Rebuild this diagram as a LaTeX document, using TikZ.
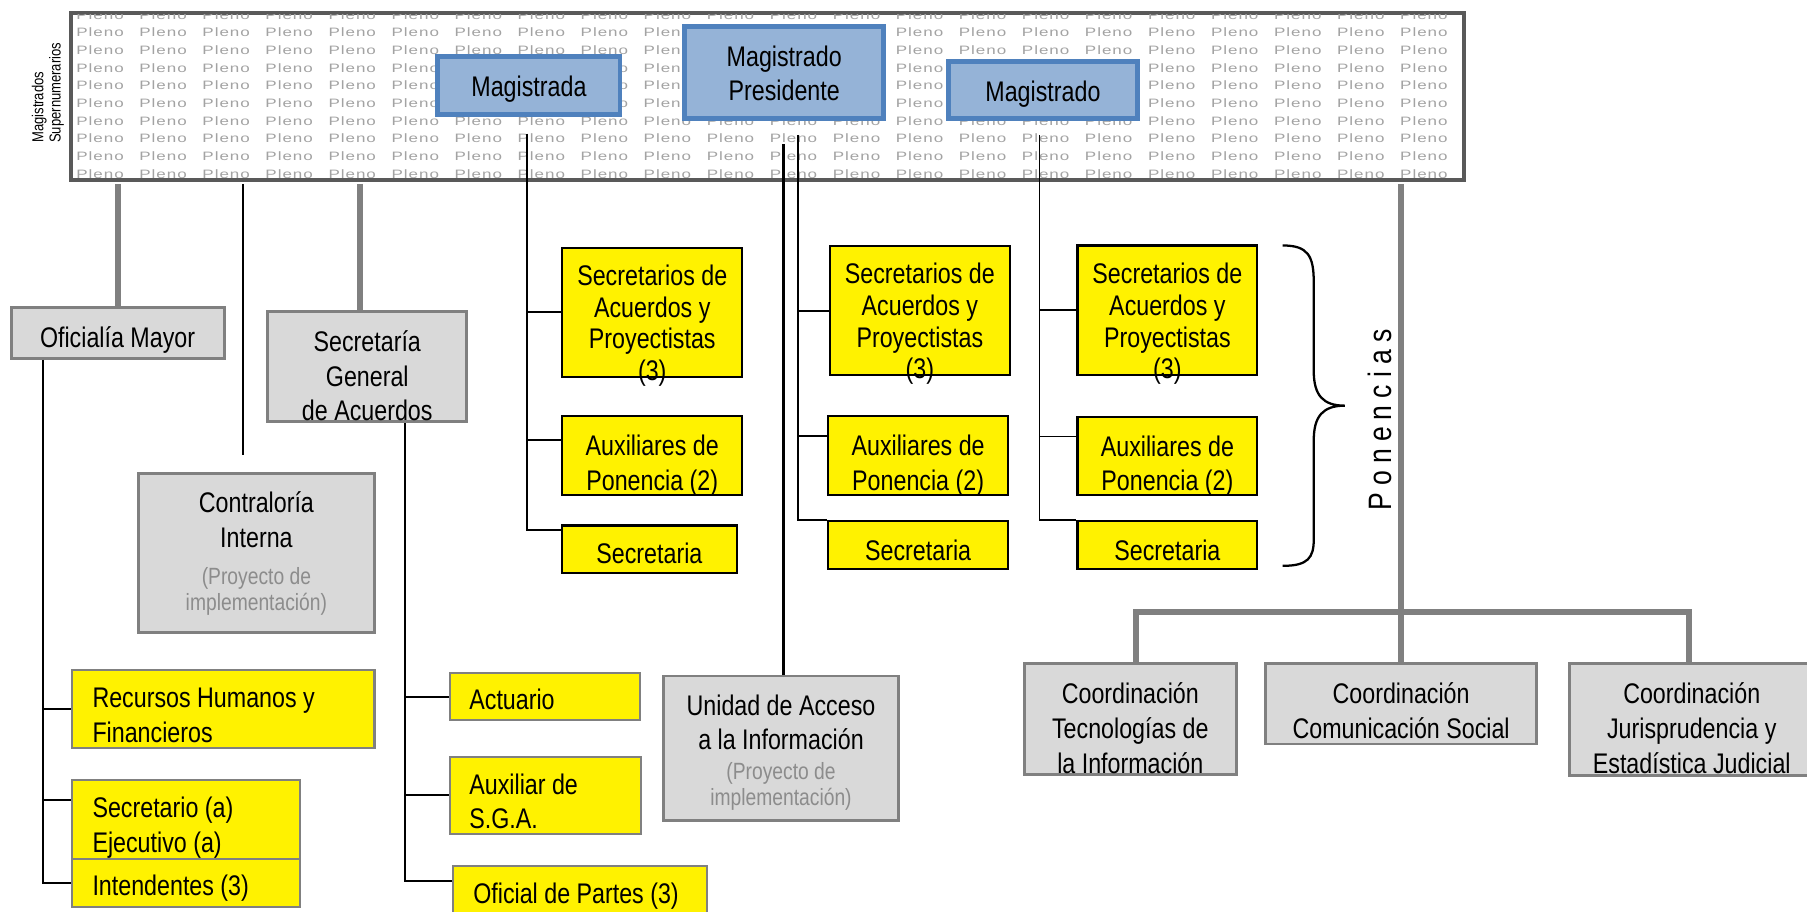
\documentclass[tikz,border=0pt]{standalone}
\usepackage{fontspec}
\setmainfont{Liberation Sans}[FakeStretch=0.82]
\newfontfamily\plenofont{Liberation Sans}[FakeStretch=1.4,LetterSpace=8]
\newfontfamily\ponfont{Liberation Sans}[FakeStretch=0.82,LetterSpace=22]
\usetikzlibrary{calc,fit}
\definecolor{magfill}{HTML}{95B3D7}
\definecolor{magline}{HTML}{4F81BD}
\definecolor{boxgray}{HTML}{D9D9D9}
\definecolor{linegray}{HTML}{808080}
\definecolor{plenoline}{HTML}{595959}
\definecolor{plenotext}{HTML}{A3A3A3}
\definecolor{subgray}{HTML}{8C8C8C}
\tikzset{
 plenobox/.style={fill=white,draw=plenoline,line width=2.5pt,inner sep=0pt},
 plenotxt/.style={anchor=west,inner sep=0pt,text=plenotext,font=\plenofont\fontsize{7.5}{8}\selectfont},
 magbox/.style={fill=magfill,draw=magline,line width=3pt,inner sep=0pt},
 graybox/.style={fill=boxgray,draw=linegray,line width=1.8pt,inner sep=0pt},
 yelbox/.style={fill=yellow,draw=black,line width=1.3pt,inner sep=0pt},
 yelboxg/.style={fill=yellow,draw=linegray,line width=1.3pt,inner sep=0pt},
 btxt/.style={align=center,inner sep=0pt,font=\fontsize{17.5}{21.5}\selectfont},
 saptxt/.style={btxt,font=\fontsize{17.5}{19.6}\selectfont},
 ltxt/.style={align=left,anchor=west,inner sep=0pt,font=\fontsize{17.5}{21.5}\selectfont},
 conn/.style={line width=1.2pt},
 gconn/.style={draw=linegray,line width=3.7pt}
}
\newcommand{\subtxt}{\color{subgray}\fontsize{14.5}{16.6}\selectfont}

\begin{document}
\begin{tikzpicture}[x=0.025cm,y=-0.025cm]
 \useasboundingbox (0,0) rectangle (1568,791); %図の範囲
 \node[plenobox,fit={(62,11) (1270,156)}] (pleno) {}; %Plenoの枠
 \begin{scope}
  \clip (64,13) rectangle (1268,154); %枠の内側
  \foreach \r in {0,...,9}
   \foreach \c in {0,...,21}{
    \pgfmathtruncatemacro\hide{(\r>2)*(\r<6)*((\c>5)*(\c<8)+(\c>13)*(\c<17))+(\r>0)*(\r<6)*(\c>9)*(\c<13)} %箱の下に隠れる文字
    \ifnum\hide=0
     \node[plenotxt] (pl-\r-\c) at ({66+54.7*\c},{13+15.3*\r}) {Pleno}; %背景の文字
    \fi
   }
 \end{scope}
 \node[rotate=90,align=left,inner sep=0pt,font=\fontsize{9.8}{10.6}\selectfont] (super) at (41.5,80.5) {Magistrados\\Supernumerarios}; %左の縦書き

 \node[magbox,fit={(380,49) (538,99)}] (mag1) {}; %Magistrada
 \node[btxt] (mag1t) at (459,77.3) {Magistrada};
 \node[magbox,fit={(594,23) (767,103)}] (pres) {}; %Magistrado Presidente
 \node[btxt] (prest) at (680.5,63.6) {Magistrado\\Presidente};
 \node[magbox,fit={(823,53.5) (987,103)}] (mag2) {}; %Magistrado
 \node[btxt] (mag2t) at (905,81.3) {Magistrado};

 \node[graybox,fit={(10,267) (195,311)}] (ofic) {}; %Oficialía Mayor
 \node[btxt] (ofict) at (102,295) {Oficialía Mayor};
 \node[graybox,fit={(232.5,270) (405,366)}] (secgen) {}; %Secretaría General
 \node[btxt] (secgent) at (318.7,326) {Secretaría\\General\\de Acuerdos};
 \node[graybox,fit={(120,410.5) (325,549)}] (contra) {}; %Contraloría
 \node[btxt] (contrat) at (222.5,480.5) {Contraloría\\Interna\\[1pt]\subtxt(Proyecto de\\[-5pt]\subtxt implementación)};

 \node[yelbox,fit={(488,215) (644,327)}] (sap1) {}; %ポネンシア1
 \node[saptxt] (sap1t) at (566,282.5) {Secretarios de\\Acuerdos y\\Proyectistas\\(3)};
 \node[yelbox,fit={(488,361) (644,429.5)}] (aux1) {};
 \node[btxt] (aux1t) at (566,404.3) {Auxiliares de\\Ponencia (2)};
 \node[yelbox,fit={(488,456) (639.5,497)}] (sec1) {};
 \node[btxt] (sec1t) at (563.5,480) {Secretaria};

 \node[yelbox,fit={(720,213.5) (876.5,325.6)}] (sap2) {}; %ポネンシア2
 \node[saptxt] (sap2t) at (798.2,281) {Secretarios de\\Acuerdos y\\Proyectistas\\(3)};
 \node[yelbox,fit={(718.5,361) (875,429.5)}] (aux2) {};
 \node[btxt] (aux2t) at (796.7,404.3) {Auxiliares de\\Ponencia (2)};
 \node[yelbox,fit={(718.5,452) (875,494)}] (sec2) {};
 \node[btxt] (sec2t) at (796.7,477.3) {Secretaria};

 \node[yelbox,fit={(935,213) (1091,325.6)}] (sap3) {}; %ポネンシア3
 \node[saptxt] (sap3t) at (1013,281) {Secretarios de\\Acuerdos y\\Proyectistas\\(3)};
 \node[yelbox,fit={(935,361.5) (1091,429.5)}] (aux3) {};
 \node[btxt] (aux3t) at (1013,404.5) {Auxiliares de\\Ponencia (2)};
 \node[yelbox,fit={(935,452) (1091,494)}] (sec3) {};
 \node[btxt] (sec3t) at (1013,477.3) {Secretaria};

 \node[graybox,fit={(575.5,586.6) (780,712)}] (unidad) {}; %Unidad de Acceso
 \node[btxt] (unidadt) at (677.7,652.7) {Unidad de Acceso\\a la Información\\[-3pt]\subtxt(Proyecto de\\[-6pt]\subtxt implementación)};

 \node[graybox,fit={(888.6,576) (1073,672)}] (coord1) {}; %Coordinaciones
 \node[btxt] (coord1t) at (980.8,631.7) {Coordinación\\Tecnologías de\\la Información};
 \node[graybox,fit={(1098,576) (1333.6,645.6)}] (coord2) {};
 \node[btxt] (coord2t) at (1215.8,616.6) {Coordinación\\Comunicación Social};
 \node[graybox,fit={(1362,576) (1575,672.6)}] (coord3) {};
 \node[btxt] (coord3t) at (1468,631.7) {Coordinación\\Jurisprudencia y\\Estadística Judicial};

 \node[yelboxg,fit={(62.5,581) (325,649)}] (rechum) {}; %左下の黄色い箱
 \node[ltxt] (rechumt) at (80,621) {Recursos Humanos y\\Financieros};
 \node[yelboxg,fit={(62.5,677) (260,745)}] (seceje) {};
 \node[ltxt] (secejet) at (80,718) {Secretario (a)\\Ejecutivo (a)};
 \node[yelboxg,fit={(62.5,745) (260,787)}] (intend) {};
 \node[ltxt] (intendt) at (80,770.3) {Intendentes (3)};
 \node[yelboxg,fit={(390.5,584) (555,625)}] (actua) {};
 \node[ltxt] (actuat) at (407,607) {Actuario};
 \node[yelboxg,fit={(390.5,656.6) (556,723.7)}] (auxsga) {};
 \node[ltxt] (auxsgat) at (407,695.4) {Auxiliar de\\S.G.A.};
 \node[yelboxg,fit={(393,751.5) (613.5,800)}] (ofpart) {};
 \node[ltxt] (ofpartt) at (410.4,777.5) {Oficial de Partes (3)};

 \coordinate (ctrlEnd) at (211,395); %Contraloríaへの線の端
 \coordinate (sgIn) at (312,270); %Secretaría Generalへの入口
 \draw[gconn,shorten <=1.3pt] (pleno.south -| ofic.north) -- (ofic.north);
 \draw[conn,shorten <=1.3pt] (pleno.south -| ctrlEnd) -- (ctrlEnd);
 \draw[gconn,shorten <=1.3pt] (pleno.south -| sgIn) -- (sgIn);
 \draw[gconn,shorten <=1.3pt] (pleno.south -| coord2.north) -- (coord2.north);
 \coordinate (barL) at (986,531); %横棒の左
 \coordinate (barR) at (1466,531); %横棒の右
 \draw[gconn] (barL |- coord1.north) -- (barL) -- (barR) -- (barR |- coord3.north);

 \coordinate (ofV) at (37.7,0); %Oficialía Mayorの縦線
 \coordinate (sejIn) at ($(seceje.north west)!.26!(seceje.south west)$);
 \draw[conn] (ofic.south -| ofV) |- (intend.west);
 \draw[conn] (ofV |- rechum.west) -- (rechum.west);
 \draw[conn] (ofV |- sejIn) -- (sejIn);

 \coordinate (sgV) at (351.6,0); %Secretaría Generalの縦線
 \coordinate (opIn) at ($(ofpart.north west)!.28!(ofpart.south west)$);
 \draw[conn] (secgen.south -| sgV) |- (opIn);
 \draw[conn] (sgV |- actua.west) -- (actua.west);
 \draw[conn] (sgV |- auxsga.west) -- (auxsga.west);

 \coordinate (m1) at (457,116); %Magistradaの線
 \coordinate (s1In) at ($(sec1.north west)!.12!(sec1.south west)$);
 \coordinate (a1In) at ($(aux1.north west)!.31!(aux1.south west)$);
 \draw[conn] (m1) |- (s1In);
 \draw[conn] (m1 |- sap1.west) -- (sap1.west);
 \draw[conn] (m1 |- a1In) -- (a1In);

 \coordinate (m2) at (692.6,117); %Presidenteの線
 \coordinate (a2In) at ($(aux2.north west)!.26!(aux2.south west)$);
 \draw[conn] (m2) |- (sec2.north west);
 \draw[conn] (m2 |- sap2.west) -- (sap2.west);
 \draw[conn] (m2 |- a2In) -- (a2In);
 \coordinate (uTop) at (680,125); %Unidadへの線
 \draw[conn,line width=1.8pt] (uTop) -- (uTop |- unidad.north);

 \coordinate (m3) at (902,117); %Magistradoの線
 \coordinate (a3In) at ($(aux3.north west)!.26!(aux3.south west)$);
 \draw[conn] (m3) |- (sec3.north west);
 \draw[conn] (m3 |- sap3.west) -- (sap3.west);
 \draw[conn] (m3 |- a3In) -- (a3In);

 \draw[line width=1.4pt] (1113,213) .. controls (1135,213) and (1140,222) .. (1140,245) -- (1140,322) .. controls (1140,343) and (1148,352) .. (1167,352) .. controls (1148,352) and (1140,361) .. (1140,382) -- (1140,468) .. controls (1140,484) and (1135,491) .. (1113,491); %中括弧
 \node[rotate=90,inner sep=0pt,font=\ponfont\fontsize{20}{24}\selectfont] (ponen) at (1197.5,364.5) {Ponencias}; %Ponencias
\end{tikzpicture}
\end{document}
